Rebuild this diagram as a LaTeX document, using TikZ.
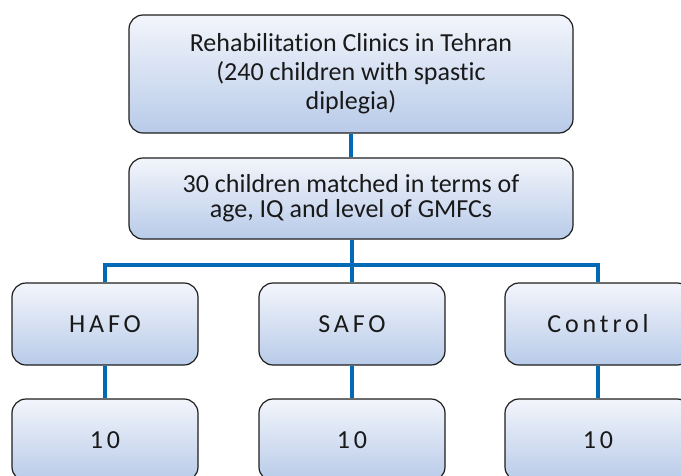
\documentclass[tikz,border=0pt]{standalone}
\usepackage{fontspec}
\setmainfont{Carlito}[Ligatures=NoCommon]
\usetikzlibrary{backgrounds}
\definecolor{boxtop}{RGB}{243,245,251}
\definecolor{boxbot}{RGB}{184,203,233}
\definecolor{linkblue}{RGB}{0,106,180}
\definecolor{boxedge}{RGB}{30,30,30}
\tikzset{
  box/.style={draw=boxedge, line width=1.2pt, rounded corners=14pt,
    top color=boxtop, bottom color=boxbot, align=center, inner sep=0pt,
    text=black!90},
  bigbox/.style={box, minimum width=444pt},
  smallbox/.style={box, minimum width=186pt, minimum height=82pt,
    font=\fontsize{26}{30}\selectfont\addfontfeatures{LetterSpace=15}},
  link/.style={draw=linkblue, line width=4pt}
}
\begin{document}
\begin{tikzpicture}[x=1pt,y=-1pt]
\useasboundingbox (0,0) rectangle (681,475);
\node[bigbox, minimum height=118pt, font=\fontsize{26}{29}\selectfont] (clinic) at (351,74)
  {Rehabilitation Clinics in Tehran\\(240 children with spastic\\diplegia)};
\node[bigbox, minimum height=81pt, font=\fontsize{26}{25}\selectfont] (matched) at (351,198.5)
  {30 children matched in terms of\\age, IQ and level of GMFCs};
\node[smallbox] (hafo) at (105,324) {HAFO};
\node[smallbox] (safo) at (352,324) {SAFO};
\node[smallbox] (control) at (598,324) {Control};
\node[smallbox] (nh) at (105,440) {10};
\node[smallbox] (ns) at (352,440) {10};
\node[smallbox] (nc) at (598,440) {10};
\coordinate (bus) at (352,265);
\begin{scope}[on background layer]
\draw[link] (clinic.south) -- (matched.north);
\draw[link] (matched.south -| bus) -- (bus);
\draw[link] (hafo.north) |- (bus) -| (control.north);
\draw[link] (bus) -- (safo.north);
\draw[link] (hafo.south) -- (nh.north);
\draw[link] (safo.south) -- (ns.north);
\draw[link] (control.south) -- (nc.north);
\end{scope}
\end{tikzpicture}
\end{document}
